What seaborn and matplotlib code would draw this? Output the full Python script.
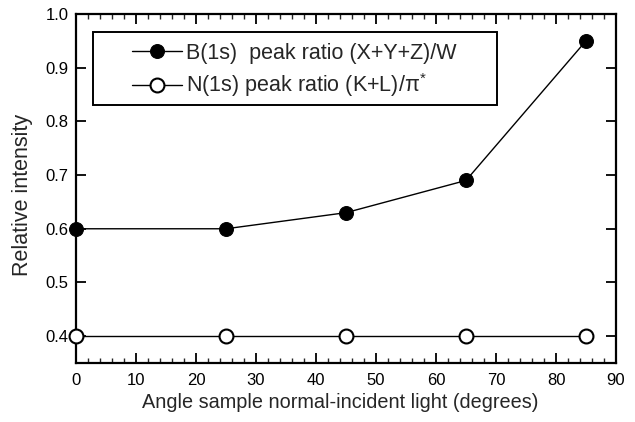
import matplotlib
matplotlib.use("Agg")
import matplotlib.pyplot as plt
import seaborn as sns
import pandas as pd
from matplotlib.ticker import MultipleLocator
from matplotlib.patches import Rectangle

angles = [0, 25, 45, 65, 85]
b_ratio = [0.60, 0.60, 0.63, 0.69, 0.95]
n_ratio = [0.40, 0.40, 0.40, 0.40, 0.40]
b_label = "B(1s)  peak ratio (X+Y+Z)/W"
n_label = r"N(1s) peak ratio (K+L)/$\pi^{*}$"

sns.set_theme(style="ticks")
plt.rcParams['font.family'] = ['Liberation Sans', 'DejaVu Sans']
plt.rcParams['mathtext.fontset'] = 'custom'
plt.rcParams['mathtext.rm'] = 'Liberation Sans'
plt.rcParams['mathtext.it'] = 'Liberation Sans'

W, H = 635, 422
L, R, T, B = 76, 616, 14, 363
fig = plt.figure(figsize=(W/100, H/100), dpi=100)
ax = fig.add_axes([L/W, 1-B/H, (R-L)/W, (B-T)/H])

df_b = pd.DataFrame({"x": angles, "y": b_ratio})
df_n = pd.DataFrame({"x": angles, "y": n_ratio})

sns.lineplot(data=df_b, x="x", y="y", ax=ax, color="black", linewidth=1.0,
             marker="o", markersize=10, markerfacecolor="black",
             markeredgecolor="black", label=b_label, clip_on=False, zorder=5)
sns.lineplot(data=df_n, x="x", y="y", ax=ax, color="black", linewidth=1.0,
             marker="o", markersize=10, markerfacecolor="white",
             markeredgecolor="black", markeredgewidth=1.5,
             label=n_label, clip_on=False, zorder=5)

ax.set_xlim(0, 90)
ax.set_ylim(0.35, 1.0)
ax.xaxis.set_major_locator(MultipleLocator(10))
ax.xaxis.set_minor_locator(MultipleLocator(2))
ax.set_yticks([0.4, 0.5, 0.6, 0.7, 0.8, 0.9, 1.0])
ax.set_yticklabels(["0.4", "0.5", "0.6", "0.7", "0.8", "0.9", "1.0"])

ax.tick_params(axis="both", which="major", direction="in", length=7, width=1.3,
               top=True, right=True, labelsize=12, colors="black")
ax.tick_params(axis="x", which="major", pad=7)
ax.tick_params(axis="y", which="major", pad=5.5)
ax.tick_params(axis="x", which="minor", direction="in", length=3.5, width=1.0,
               top=True, bottom=True)
for s in ax.spines.values():
    s.set_linewidth(1.6)
    s.set_color("black")


def fx(px):
    return (px - L) / (R - L)


def fy(py):
    return (B - py) / (B - T)


ax.set_xlabel("Angle sample normal-incident light (degrees)", fontsize=14.3)
ax.set_ylabel("Relative intensity", fontsize=15.5)
ax.xaxis.set_label_coords(fx(340), fy(393))
ax.yaxis.set_label_coords(fx(33), fy(195))

box = Rectangle((fx(93), fy(105)), fx(497) - fx(93), fy(32) - fy(105),
                transform=ax.transAxes, facecolor="white", edgecolor="black",
                linewidth=1.4, zorder=6)
ax.add_patch(box)

leg = ax.legend(loc="center left", bbox_to_anchor=(fx(132), fy(71)),
                frameon=False, fontsize=15.5, handlelength=2.3,
                borderpad=0, labelspacing=0.35, handletextpad=0.2,
                borderaxespad=0)
leg.set_zorder(7)

fig.savefig("out.png", dpi=100)
